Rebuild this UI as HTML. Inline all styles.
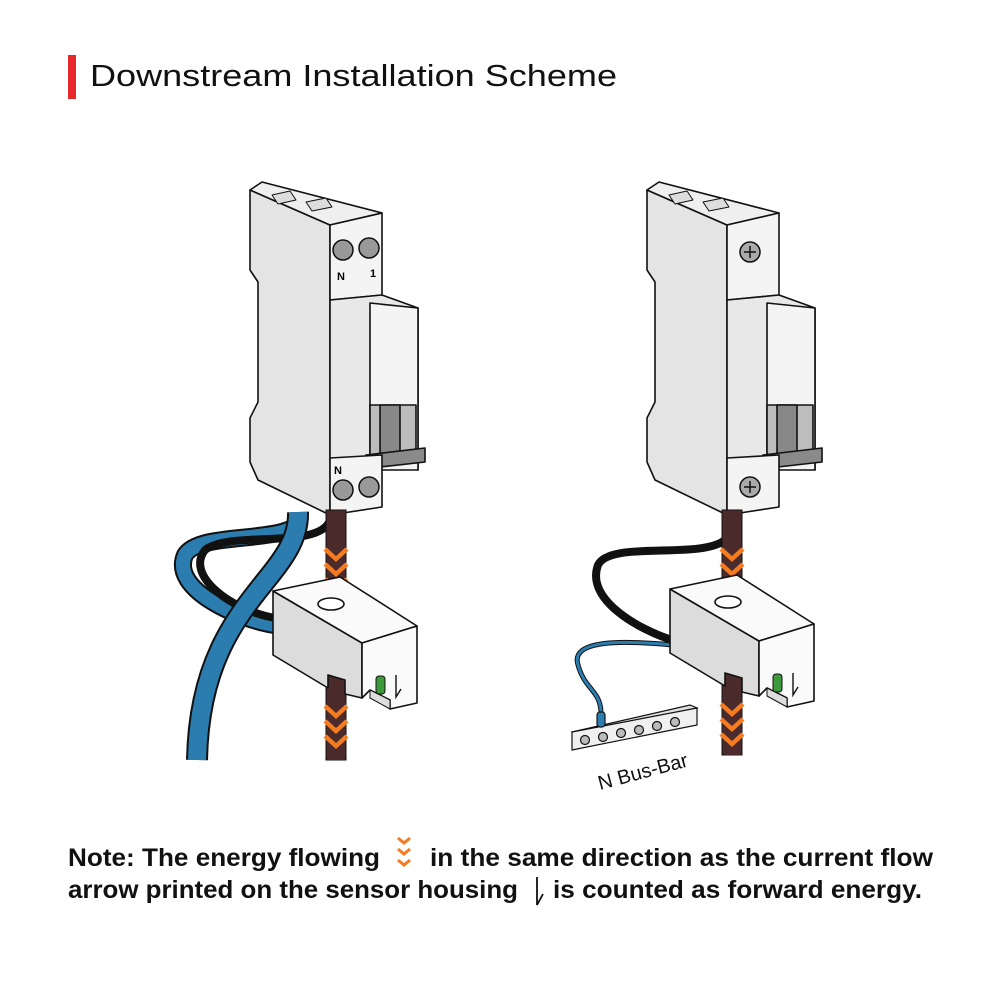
<!DOCTYPE html>
<html><head><meta charset="utf-8"><style>
html,body{margin:0;padding:0;background:#fff}
svg{display:block}
text{font-family:"Liberation Sans",sans-serif}
</style></head><body>
<svg width="990" height="990" viewBox="0 0 990 990" xmlns="http://www.w3.org/2000/svg">
<rect width="990" height="990" fill="#fff"/>
<rect x="68" y="55" width="8" height="44" fill="#e8272a"/>
<text x="90" y="86" font-size="31" font-weight="500" fill="#111" textLength="527" lengthAdjust="spacingAndGlyphs">Downstream Installation Scheme</text>

<defs>
<g id="chev" fill="none" stroke="#f47b20" stroke-width="4.5" stroke-linejoin="miter">
<path d="M-11,-6 L0,4 L11,-6"/><path d="M-11,9 L0,19 L11,9"/><path d="M-11,24 L0,34 L11,24"/>
</g>
<g id="chevs" fill="none" stroke="#f47b20" stroke-width="3">
<path d="M-6,0 L0,5 L6,0"/><path d="M-6,11 L0,16 L6,11"/><path d="M-6,22 L0,27 L6,22"/>
</g>
<g id="breaker" stroke="#111" stroke-width="1.6" stroke-linejoin="round">
<path d="M250,190 L330,225 L330,515 L258,480 L250,462 L250,418 L258,402 L258,282 L250,270 Z" fill="#e4e4e4"/>
<path d="M250,190 L262,182 L382,213 L330,225 Z" fill="#efefef"/>
<path d="M272,195 L290,191 L296,200 L278,204 Z M306,202 L326,198 L332,207 L312,211 Z" fill="#ddd" stroke-width="1"/>
<path d="M330,225 L382,213 L382,295 L330,300 Z" fill="#f4f4f4"/>
<path d="M330,300 L382,295 L418,308 L418,470 L382,460 L330,462 Z" fill="#e8e8e8"/>
<path d="M370,303 L418,308 L418,470 L370,470 Z" fill="#f4f4f4"/>
<rect x="370" y="405" width="46" height="50" fill="#bdbdbd"/>
<rect x="380" y="405" width="20" height="50" fill="#888"/>
<path d="M366,455 L425,448 L425,462 L372,468 Z" fill="#8a8a8a"/>
<path d="M330,458 L382,455 L382,507 L330,515 Z" fill="#f4f4f4"/>
</g>
<g id="sensor" stroke="#111" stroke-width="1.6" stroke-linejoin="round">
<path d="M273,591 L362,643 L362,698 L345,694 L345,680 L328,675 L328,688 L273,655 Z" fill="#dcdcdc"/>
<path d="M273,591 L340,577 L417,626 L362,643 Z" fill="#fafafa"/>
<path d="M362,643 L417,626 L417,703 L390,709 L390,700 L370,690 L362,698 Z" fill="#fafafa"/>
<path d="M370,690 L390,700 L390,709 L370,698 Z" fill="#ddd" stroke-width="1"/>
<ellipse cx="331" cy="604" rx="13" ry="6" fill="#fff"/>
<rect x="376" y="676" width="9" height="18" rx="3" fill="#3c9a3c" stroke-width="1"/>
</g>
</defs>

<!-- LEFT -->
<path d="M300,520 C290,545 200,530 185,555 C170,590 240,620 275,625" fill="none" stroke="#111" stroke-width="18"/>
<path d="M300,520 C290,545 200,530 185,555 C170,590 240,620 275,625" fill="none" stroke="#2b7db0" stroke-width="14"/>
<path d="M330,520 C320,550 230,530 205,550 C185,575 230,610 275,618" fill="none" stroke="#111" stroke-width="8"/>
<use href="#breaker"/>
<rect x="326" y="510" width="20" height="250" fill="#4b2a2c" stroke="#111" stroke-width="1"/>
<use href="#chev" x="336" y="555"/>
<path d="M298,512 C300,580 200,600 197,760" fill="none" stroke="#111" stroke-width="22"/>
<path d="M298,512 C300,580 200,600 197,760" fill="none" stroke="#2b7db0" stroke-width="18"/>
<use href="#sensor"/>
<rect x="329" y="690" width="15" height="70" fill="#4b2a2c"/>
<use href="#chev" x="336" y="712"/>
<path d="M396,675 L396,697 L401,689" fill="none" stroke="#111" stroke-width="1.4"/>
<g stroke="#111" stroke-width="1.5" fill="#999">
<circle cx="343" cy="250" r="10"/><circle cx="369" cy="248" r="10"/>
<circle cx="343" cy="490" r="10"/><circle cx="369" cy="487" r="10"/>
</g>
<text x="337" y="280" font-size="11" font-weight="bold">N</text>
<text x="370" y="277" font-size="11" font-weight="bold">1</text>
<text x="334" y="474" font-size="11" font-weight="bold">N</text>

<!-- RIGHT -->
<path d="M725,540 C700,560 610,540 598,565 C585,600 640,630 672,640" fill="none" stroke="#111" stroke-width="8"/>
<g transform="translate(397,0)"><use href="#breaker"/></g>
<rect x="722" y="510" width="20" height="245" fill="#4b2a2c" stroke="#111" stroke-width="1"/>
<use href="#chev" x="732" y="555"/>
<path d="M672,645 C620,640 570,640 578,665 C585,690 600,690 601,712" fill="none" stroke="#111" stroke-width="5"/>
<path d="M672,645 C620,640 570,640 578,665 C585,690 600,690 601,712" fill="none" stroke="#2b7db0" stroke-width="3"/>
<g transform="translate(397,-2)"><use href="#sensor"/></g>
<rect x="725" y="688" width="15" height="67" fill="#4b2a2c"/>
<use href="#chev" x="732" y="710"/>
<path d="M793,673 L793,695 L798,687" fill="none" stroke="#111" stroke-width="1.4"/>
<g stroke="#111" stroke-width="1.5" fill="#aaa">
<circle cx="750" cy="252" r="10"/><circle cx="750" cy="487" r="10"/>
</g>
<path d="M744,252 h12 M750,246 v12 M744,487 h12 M750,481 v12" stroke="#111" stroke-width="1.5"/>
<g stroke="#111" stroke-width="1.2">
<path d="M572,732 L690,705 L697,708 L578,737 Z" fill="#e0e0e0"/>
<path d="M572,732 L697,708 L697,725 L572,750 Z" fill="#f0f0f0"/>
<circle cx="585" cy="740" r="4.5" fill="#bbb"/><circle cx="603" cy="737" r="4.5" fill="#bbb"/>
<circle cx="621" cy="733" r="4.5" fill="#bbb"/><circle cx="639" cy="730" r="4.5" fill="#bbb"/>
<circle cx="657" cy="726" r="4.5" fill="#bbb"/><circle cx="675" cy="722" r="4.5" fill="#bbb"/>
<rect x="597" y="712" width="8" height="15" rx="3" fill="#2b7db0"/>
</g>
<text x="600" y="790" font-size="20" fill="#111" transform="rotate(-15 600 790)">N Bus-Bar</text>

<!-- note -->
<text x="68" y="866" font-size="25" font-weight="bold" fill="#111" textLength="312" lengthAdjust="spacingAndGlyphs">Note: The energy flowing</text>
<use href="#chevs" x="404" y="838"/>
<text x="430" y="866" font-size="25" font-weight="bold" fill="#111" textLength="503" lengthAdjust="spacingAndGlyphs">in the same direction as the current flow</text>
<text x="68" y="898" font-size="25" font-weight="bold" fill="#111" textLength="450" lengthAdjust="spacingAndGlyphs">arrow printed on the sensor housing</text>
<path d="M537,877 L537,905 L543,894" fill="none" stroke="#111" stroke-width="1.8"/>
<text x="553" y="898" font-size="25" font-weight="bold" fill="#111" textLength="369" lengthAdjust="spacingAndGlyphs">is counted as forward energy.</text>
</svg>
</body></html>
